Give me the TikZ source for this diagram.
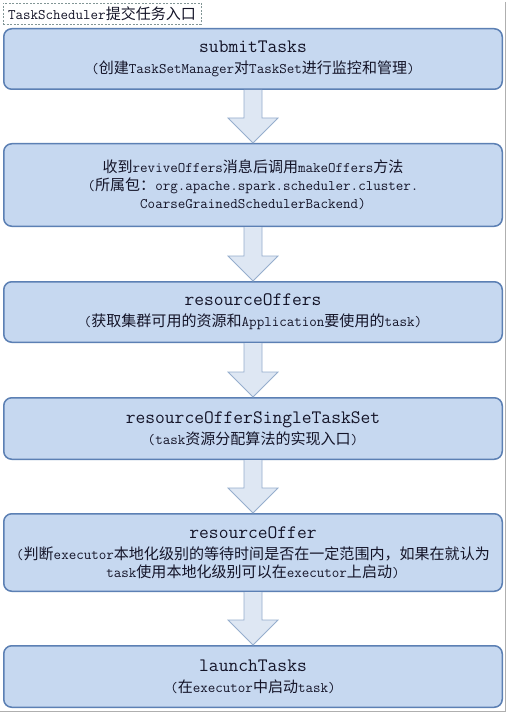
\documentclass[tikz,border=0pt]{standalone}
\usepackage{fontspec}
\newfontfamily\cjk[Scale=1.03]{Noto Sans CJK SC}
\usetikzlibrary{calc}
\newcommand\C[1]{{\cjk #1}}
\newcommand\ttl{\fontsize{19}{21}\selectfont}
\definecolor{boxfill}{RGB}{198,216,240}
\definecolor{boxline}{RGB}{92,128,180}
\definecolor{arrfill}{RGB}{222,231,243}
\definecolor{arrline}{RGB}{150,174,205}
\definecolor{textcol}{RGB}{20,20,40}
\definecolor{dashcol}{RGB}{130,150,150}
\definecolor{framecol}{RGB}{175,175,175}
\begin{document}
\begin{tikzpicture}[x=1pt,y=-1pt,
  box/.style={draw=boxline, fill=boxfill, line width=1.5pt, rounded corners=8pt,
    minimum width=498.5pt, align=center, text=textcol, inner sep=0pt,
    font=\ttfamily\fontsize{14.6}{18}\selectfont},
  headbox/.style={draw=dashcol, dashed, dash pattern=on 2pt off 1.5pt, line width=0.6pt,
    minimum width=198pt, minimum height=21pt, inner sep=0pt, text=textcol,
    font=\ttfamily\fontsize{14.6}{18}\selectfont},
  blockarrow/.style={draw=arrline, fill=arrfill, line width=0.8pt, line join=miter}]
\useasboundingbox (0,0) rectangle (509,714);
\fill[white] (0,0) rectangle (509,714);
\draw[framecol, line width=1.2pt] (505.5,2) -- (505.5,711.5) -- (0,711.5);

\node[headbox] (head) at (102,13.5) {TaskScheduler\C{提交任务入口}};

\node[box, minimum height=60.5pt] (b1) at (253,59)
  {{\ttl submitTasks}\\[3pt](\C{创建}TaskSetManager\C{对}TaskSet\C{进行监控和管理})};
\node[box, minimum height=82.5pt] (b2) at (253,185)
  {\C{收到}reviveOffers\C{消息后调用}makeOffers\C{方法}\\
   (\C{所属包：}org.apache.spark.scheduler.cluster.\\
   CoarseGrainedSchedulerBackend)};
\node[box, minimum height=60.5pt] (b3) at (253,312)
  {{\ttl resourceOffers}\\[3pt](\C{获取集群可用的资源和}Application\C{要使用的}task)};
\node[box, minimum height=61.5pt] (b4) at (253,428.5)
  {{\ttl resourceOfferSingleTaskSet}\\[3pt](task\C{资源分配算法的实现入口})};
\node[box, minimum height=77.5pt] (b5) at (253,552.5)
  {{\ttl resourceOffer}\\[3pt](\C{判断}executor\C{本地化级别的等待时间是否在一定范围内，如果在就认为}\\
   task\C{使用本地化级别可以在}executor\C{上启动})};
\node[box, minimum height=61.5pt] (b6) at (253,676.5)
  {{\ttl launchTasks}\\[3pt](\C{在}executor\C{中启动}task)};

\foreach \a/\b in {b1/b2,b2/b3,b3/b4,b4/b5,b5/b6}{
  \draw[blockarrow] ($(\a.south)+(-9,0)$) -- ($(\b.north)+(-9,-25)$) -- ++(-16,0)
    -- (\b.north) -- ($(\b.north)+(25,-25)$) -- ++(-16,0) -- ($(\a.south)+(9,0)$);
}
\end{tikzpicture}
\end{document}
